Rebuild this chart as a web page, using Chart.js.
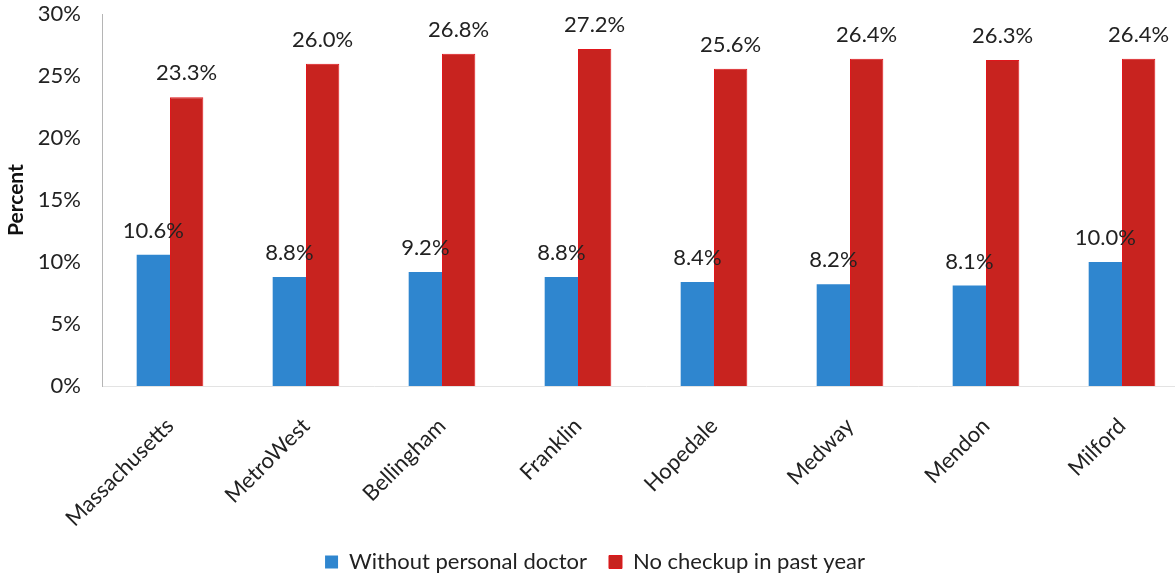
<!DOCTYPE html>
<html>
<head>
<meta charset="utf-8">
<script src="https://cdn.jsdelivr.net/npm/chart.js@4/dist/chart.umd.min.js"></script>
<style>
    html, body { margin: 0; padding: 0; background: #fff; overflow: hidden; }
    #wrap { position: absolute; left: 0; top: -12px; width: 1190px; height: 597px; }
</style>
</head>
<body>
<div id="wrap"><canvas id="chart"></canvas></div>
<script>
const places = ['Massachusetts', 'MetroWest', 'Bellingham', 'Franklin', 'Hopedale', 'Medway', 'Mendon', 'Milford'];
const withoutDoctor = [10.6, 8.8, 9.2, 8.8, 8.4, 8.2, 8.1, 10.0];
const noCheckup = [23.3, 26.0, 26.8, 27.2, 25.6, 26.4, 26.3, 26.4];
const yTicks = [0, 5, 10, 15, 20, 25, 30];

const fontFamily = 'Lato, "Open Sans", sans-serif';

// draws the value above each bar
const barLabels = {
    id: 'barLabels',
    afterDatasetsDraw(chart) {
        const ctx = chart.ctx;
        ctx.save();
        ctx.font = '22px ' + fontFamily;
        ctx.fillStyle = '#222';
        ctx.textAlign = 'center';
        ctx.textBaseline = 'bottom';
        chart.data.datasets.forEach((ds, i) => {
            chart.getDatasetMeta(i).data.forEach((bar, j) => {
                ctx.fillText(ds.data[j].toFixed(1) + '%', bar.x, bar.y - 13);
            });
        });
        ctx.restore();
    }
};

new Chart(document.getElementById('chart').getContext('2d'), {
    type: 'bar',
    data: {
        labels: places,
        datasets: [
            {
                label: 'Without personal doctor',
                data: withoutDoctor,
                backgroundColor: '#2f86cf',
                categoryPercentage: 0.49,
                barPercentage: 1.0
            },
            {
                label: 'No checkup in past year',
                data: noCheckup,
                backgroundColor: '#c8231f',
                borderColor: '#e0161b',
                borderWidth: 1,
                categoryPercentage: 0.49,
                barPercentage: 1.0
            }
        ]
    },
    options: {
        responsive: true,
        maintainAspectRatio: false,
        animation: false,
        layout: { padding: { top: 4, left: 0, right: 0, bottom: 2 } },
        plugins: {
            tooltip: { enabled: false },
            legend: {
                position: 'bottom',
                labels: {
                    boxWidth: 13,
                    boxHeight: 13,
                    padding: 22,
                    color: '#222',
                    font: { family: fontFamily, size: 22 }
                }
            }
        },
        scales: {
            x: {
                grid: { display: false },
                border: { display: true, color: '#e3e3e3' },
                ticks: {
                    color: '#222',
                    minRotation: 45,
                    maxRotation: 45,
                    padding: 19,
                    font: { family: fontFamily, size: 22 }
                },
                afterFit: (scale) => { scale.height = 143; }
            },
            y: {
                min: 0,
                max: 30,
                grid: { display: false },
                border: { display: true, color: '#b5b5b5' },
                afterBuildTicks: (scale) => { scale.ticks = yTicks.map(v => ({ value: v })); },
                ticks: {
                    color: '#222',
                    padding: 13,
                    font: { family: fontFamily, size: 22 },
                    callback: (v) => v + '%'
                },
                title: {
                    display: true,
                    text: 'Percent',
                    color: '#111',
                    padding: { top: 4, bottom: 2 },
                    font: { family: fontFamily, size: 21, weight: 'bold' }
                },
                afterFit: (scale) => { scale.width = 102; }
            }
        }
    },
    plugins: [barLabels]
});
</script>
</body>
</html>
